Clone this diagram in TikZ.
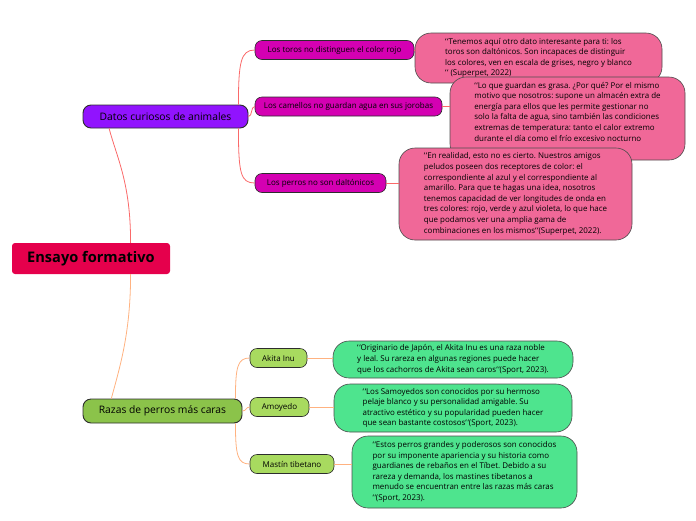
\documentclass[tikz,border=0pt]{standalone}
\usepackage{fontspec}
\setmainfont{Open Sans}
\usepackage{xcolor}
\usepackage{tikz}
\usetikzlibrary{calc}
\frenchspacing

\definecolor{rootred}{RGB}{229,0,76}
\definecolor{datpurple}{RGB}{145,19,254}
\definecolor{submag}{RGB}{212,0,178}
\definecolor{pinkbox}{RGB}{240,104,152}
\definecolor{razgreen}{RGB}{139,195,74}
\definecolor{subgreen}{RGB}{168,218,95}
\definecolor{greenbox}{RGB}{78,228,142}
\definecolor{redline}{RGB}{250,105,105}
\definecolor{orangeline}{RGB}{255,178,128}
\definecolor{edge}{RGB}{45,45,45}

% the two grave marks in front of the quotes
\newcommand{\qq}{`\kern0.7pt`}

\tikzset{
  topicbox/.style={draw=edge, line width=0.9pt, rounded corners=8pt, inner sep=0pt,
    font=\fontsize{10.3}{12}\selectfont},
  subbox/.style={draw=edge, line width=0.6pt, rounded corners=7pt, inner sep=0pt,
    minimum height=19pt, font=\fontsize{8}{9}\selectfont},
  notebox/.style={draw=edge!85, line width=0.6pt, rounded corners=16pt, align=left,
    inner sep=2pt, font=\fontsize{7.95}{10.6}\selectfont},
  redcon/.style={draw=redline, line width=0.8pt},
  orcon/.style={draw=orangeline, line width=0.8pt},
}

\begin{document}
\begin{tikzpicture}[x=1pt,y=1pt,yscale=-1,xscale=1]
\useasboundingbox (0,0) rectangle (696,520);

% Central topic
\node[fill=rootred, rounded corners=3pt, minimum width=158pt, minimum height=31pt,
  font=\fontsize{14.6}{16}\selectfont\bfseries] (root) at (91,258.5) {Ensayo formativo};

% Main topics
\node[topicbox, fill=datpurple, minimum width=165pt, minimum height=23pt] (datos) at (165.5,116.5) {Datos curiosos de animales};
\node[topicbox, fill=razgreen, minimum width=159pt, minimum height=24pt] (razas) at (162.5,411) {Razas de perros más caras};

% Subtopics
\node[subbox, fill=submag, minimum width=159pt] (toros) at (334.5,50) {Los toros no distinguen el color rojo};
\node[subbox, fill=submag, minimum width=187pt] (camellos) at (348.5,106.5) {Los camellos no guardan agua en sus jorobas};
\node[subbox, fill=submag, minimum width=131pt] (perros) at (320.5,183) {Los perros no son daltónicos};
\node[subbox, fill=subgreen, minimum width=57pt] (akita) at (278.5,358) {Akita Inu};
\node[subbox, fill=subgreen, minimum width=59pt] (amoyedo) at (279.5,407) {Amoyedo};
\node[subbox, fill=subgreen, minimum width=84pt] (mastin) at (292,464) {Mastín tibetano};

% Notes
\node[notebox, fill=pinkbox, minimum width=247pt, minimum height=50pt] (torosnote) at (538.5,58)
  {\qq Tenemos aquí otro dato interesante para ti: los\\
   toros son daltónicos. Son incapaces de distinguir\\
   los colores, ven en escala de grises, negro y blanco\\
   \qq{} (Superpet, 2022)};
\node[notebox, fill=pinkbox, minimum width=235pt, minimum height=83pt] (camellosnote) at (567.5,118.5)
  {\qq Lo que guardan es grasa. ¿Por qué? Por el mismo\\
   motivo que nosotros: supone un almacén extra de\\
   energía para ellos que les permite gestionar no\\
   solo la falta de agua, sino también las condiciones\\
   extremas de temperatura: tanto el calor extremo\\
   durante el día como el frío excesivo nocturno\\
   \strut};
\node[notebox, fill=pinkbox, minimum width=233pt, minimum height=92pt] (perrosnote) at (515.5,194)
  {\qq En realidad, esto no es cierto. Nuestros amigos\\
   peludos poseen dos receptores de color: el\\
   correspondiente al azul y el correspondiente al\\
   amarillo. Para que te hagas una idea, nosotros\\
   tenemos capacidad de ver longitudes de onda en\\
   tres colores: rojo, verde y azul violeta, lo que hace\\
   que podamos ver una amplia gama de\\
   combinaciones en los mismos\qq(Superpet, 2022).};
\node[notebox, fill=greenbox, minimum width=240pt, minimum height=37pt] (akitanote) at (453,359.5)
  {\qq Originario de Japón, el Akita Inu es una raza noble\\
   y leal. Su rareza en algunas regiones puede hacer\\
   que los cachorros de Akita sean caros\qq(Sport, 2023).};
\node[notebox, fill=greenbox, minimum width=238pt, minimum height=48pt] (amoyedonote) at (453,408)
  {\qq Los Samoyedos son conocidos por su hermoso\\
   pelaje blanco y su personalidad amigable. Su\\
   atractivo estético y su popularidad pueden hacer\\
   que sean bastante costosos\qq(Sport, 2023).};
\node[notebox, fill=greenbox, minimum width=225pt, minimum height=72pt] (mastinnote) at (464.5,472)
  {\qq Estos perros grandes y poderosos son conocidos\\
   por su imponente apariencia y su historia como\\
   guardianes de rebaños en el Tíbet. Debido a su\\
   rareza y demanda, los mastines tibetanos a\\
   menudo se encuentran entre las razas más caras\\
   \qq(Sport, 2023).};

% Connectors from the central topic
\draw[redcon] ($(root.north west)!0.75!(root.north east)$) .. controls +(0,-60) and +(8,30) .. ($(datos.south west)!0.16!(datos.south east)$);
\draw[orcon] ($(root.south west)!0.75!(root.south east)$) .. controls +(0,60) and +(8,-30) .. ($(razas.north west)!0.18!(razas.north east)$);

% Connectors to the subtopics
\draw[redcon] ($(datos.north east)+(-10,0)$) .. controls +(0,-42) and +(-14,0) .. (toros.west);
\draw[redcon] (datos.east) .. controls +(4,0) and +(-4,0) .. (camellos.west);
\draw[redcon] ($(datos.south east)+(-10,0)$) .. controls +(0,45) and +(-14,0) .. (perros.west);
\draw[orcon] ($(razas.north east)+(-7,0)$) .. controls +(0,-32) and +(-12,0) .. (akita.west);
\draw[orcon] (razas.east) .. controls +(4,0) and +(-4,0) .. (amoyedo.west);
\draw[orcon] ($(razas.south east)+(-7,0)$) .. controls +(0,32) and +(-12,0) .. (mastin.west);

% Connectors to the notes
\draw[redcon] (toros.east) -- (toros.east -| torosnote.west);
\draw[redcon] (camellos.east) -- (camellos.east -| camellosnote.west);
\draw[redcon] (perros.east) -- (perros.east -| perrosnote.west);
\draw[orcon] (akita.east) -- (akita.east -| akitanote.west);
\draw[orcon] (amoyedo.east) -- (amoyedo.east -| amoyedonote.west);
\draw[orcon] (mastin.east) -- (mastin.east -| mastinnote.west);

\end{tikzpicture}
\end{document}
